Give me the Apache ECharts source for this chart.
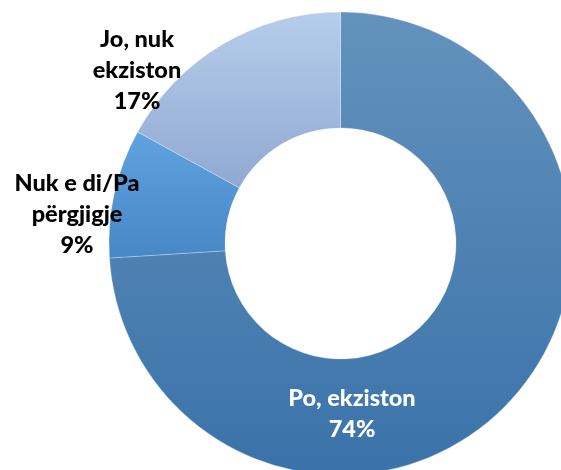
<!DOCTYPE html>
<html>
<head>
<meta charset="utf-8">
<script src="https://cdn.jsdelivr.net/npm/echarts@6/dist/echarts.min.js"></script>
<style>html,body{margin:0;padding:0;background:#fff;}#c{width:561px;height:470px;}</style>
</head>
<body>
<div id="c"></div>
<script>
var categories = ['Po, ekziston', 'Nuk e di/Pa\npërgjigje', 'Jo, nuk\nekziston'];
var values = [74, 9, 17];

var gradients = [
  ['#6392bd', '#3a72a9'],
  ['#5fa3e0', '#4787c7'],
  ['#b7cdeb', '#90a9d2']
];
var labelColors = ['#ffffff', '#000000', '#000000'];
var labelPos = [[352, 414], [77, 214], [137, 70]];

var chart = echarts.init(document.getElementById('c'), null, {renderer: 'canvas'});
var data = categories.map(function (c, i) {
  return {
    name: c,
    value: values[i],
    itemStyle: {
      color: new echarts.graphic.LinearGradient(0, 0, 0, 1, [
        {offset: 0, color: gradients[i][0]},
        {offset: 1, color: gradients[i][1]}
      ])
    },
    label: {color: labelColors[i]}
  };
});
chart.setOption({
  animation: false,
  series: [{
    type: 'pie',
    center: [340.5, 243.5],
    radius: [115.5, 231.5],
    startAngle: 90,
    clockwise: true,
    avoidLabelOverlap: false,
    itemStyle: {borderColor: 'rgba(255,255,255,0.45)', borderWidth: 0.6},
    label: {
      show: true,
      position: 'inside',
      formatter: '{b}\n{c}%',
      fontFamily: 'Lato',
      fontWeight: 900,
      fontSize: 23.5,
      lineHeight: 31,
      align: 'center'
    },
    labelLine: {show: false},
    labelLayout: function (p) {
      var pos = labelPos[p.dataIndex];
      return {x: pos[0], y: pos[1], align: 'center', verticalAlign: 'middle'};
    },
    data: data
  }]
});
</script>
</body>
</html>
